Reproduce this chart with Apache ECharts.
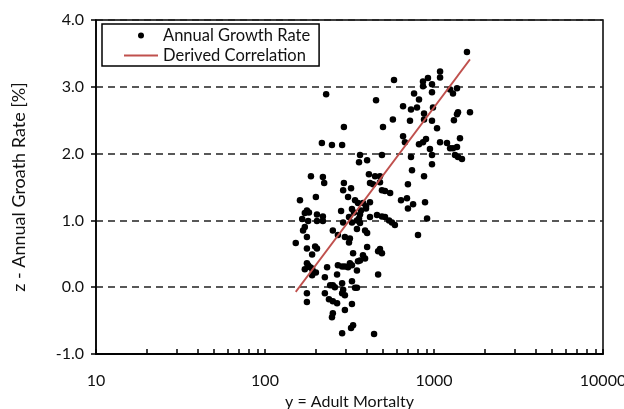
<!DOCTYPE html>
<html>
<head>
<meta charset="utf-8">
<script src="https://cdn.jsdelivr.net/npm/echarts@6/dist/echarts.min.js"></script>
<style>
  html, body { margin: 0; padding: 0; background: #fff; }
  #chart { width: 624px; height: 409px; }
</style>
</head>
<body>
<div id="chart"></div>
<script>
// Adult mortality (x) and annual growth rate in % (z) for each observation
const mortality = [
  1567, 1086, 1086, 921, 861, 973, 580, 861, 1245, 1368,
  1295, 762, 973, 815, 656, 731, 793, 986, 1387, 1633,
  1368, 873, 571, 721, 873, 973, 1312, 499, 1042, 656,
  673, 1425, 815, 861, 897, 1086, 1194, 1245, 1295, 946,
  1368, 973, 1331, 1387, 1464, 731, 973, 741, 873, 701,
  492, 513, 550, 638, 692, 752, 701, 885, 492, 513,
  542, 564, 587, 910, 804, 230, 454, 293, 217, 249,
  286, 365, 402, 360, 492, 187, 220, 224, 412, 448,
  479, 418, 436, 479, 293, 290, 323, 161, 200, 310,
  341, 355, 380, 396, 418, 177, 182, 172, 203, 220,
  282, 327, 336, 370, 365, 396, 360, 350, 314, 290,
  327, 365, 418, 460, 166, 180, 203, 220, 172, 168,
  252, 270, 297, 318, 350, 391, 402, 177, 152, 402,
  479, 177, 198, 203, 190, 314, 467, 492, 332, 380,
  391, 365, 355, 233, 270, 286, 297, 318, 327, 310,
  350, 177, 180, 185, 190, 172, 192, 200, 190, 226,
  267, 286, 327, 467, 243, 252, 259, 290, 341, 350,
  177, 226, 286, 297, 177, 239, 252, 267, 327, 297,
  252, 249, 332, 323, 286, 442
];
const growthRate = [
  3.52, 3.23, 3.14, 3.13, 3.08, 3.04, 3.10, 3.01, 2.96, 2.98,
  2.90, 2.90, 2.92, 2.81, 2.71, 2.66, 2.69, 2.69, 2.62, 2.62,
  2.59, 2.60, 2.51, 2.49, 2.51, 2.49, 2.50, 2.40, 2.38, 2.26,
  2.17, 2.23, 2.14, 2.17, 2.22, 2.17, 2.16, 2.08, 2.08, 2.07,
  2.10, 1.98, 1.98, 1.95, 1.92, 1.95, 1.84, 1.75, 1.66, 1.54,
  1.45, 1.44, 1.41, 1.30, 1.33, 1.24, 1.18, 1.27, 1.06, 1.05,
  1.00, 0.97, 0.93, 1.03, 0.78, 2.89, 2.80, 2.40, 2.16, 2.13,
  2.13, 1.98, 1.90, 1.87, 1.98, 1.66, 1.65, 1.56, 1.69, 1.66,
  1.66, 1.56, 1.54, 1.57, 1.56, 1.45, 1.48, 1.30, 1.35, 1.35,
  1.30, 1.26, 1.26, 1.21, 1.27, 1.15, 1.12, 1.11, 1.09, 1.06,
  1.14, 1.17, 1.12, 1.15, 1.09, 1.18, 1.03, 1.00, 1.05, 0.97,
  0.97, 0.96, 1.05, 1.08, 1.02, 0.99, 0.99, 0.99, 0.90, 0.85,
  0.85, 0.78, 0.75, 0.73, 0.87, 0.85, 0.81, 0.75, 0.66, 0.60,
  0.57, 0.58, 0.61, 0.58, 0.49, 0.67, 0.54, 0.51, 0.51, 0.48,
  0.43, 0.40, 0.39, 0.30, 0.33, 0.31, 0.31, 0.36, 0.33, 0.30,
  0.25, 0.36, 0.33, 0.30, 0.28, 0.27, 0.24, 0.22, 0.18, 0.15,
  0.19, 0.06, 0.09, 0.19, 0.03, 0.03, 0.00, -0.04, -0.01, -0.01,
  -0.09, -0.09, -0.09, -0.12, -0.22, -0.18, -0.21, -0.24, -0.25, -0.34,
  -0.39, -0.45, -0.57, -0.61, -0.69, -0.70
];

// Fitted correlation, end points of the straight line on the log axis
const correlationX = [152, 1633];
const correlationY = [-0.07, 3.41];

// Axis ticks
const xMinorTicks = [
  10, 20, 30, 40, 50, 60, 70, 80, 90,
  100, 200, 300, 400, 500, 600, 700, 800, 900,
  1000, 2000, 3000, 4000, 5000, 6000, 7000, 8000, 9000, 10000
];
const xLabels = [10, 100, 1000, 10000];
const yTicks = [-1, 0, 1, 2, 3, 4];

const FONT = 'Lato, "Open Sans", sans-serif';
const TEXT = '#111';
const FS = 16;

const growthPoints = mortality.map((m, i) => [m, growthRate[i]]);
const correlationLine = correlationX.map((m, i) => [m, correlationY[i]]);

const chart = echarts.init(document.getElementById('chart'), null, { renderer: 'canvas' });

chart.setOption({
  animation: false,
  backgroundColor: '#fff',
  textStyle: { fontFamily: FONT, color: TEXT },
  grid: {
    left: 96, right: 21, top: 20, bottom: 55,
    containLabel: false,
    outerBoundsMode: 'none',
    show: true, borderColor: '#000', borderWidth: 1.5,
    backgroundColor: 'transparent'
  },
  legend: {
    left: 102, top: 24,
    orient: 'vertical',
    itemWidth: 34, itemHeight: 6, itemGap: 3,
    padding: [3, 9, 2, 21],
    borderColor: '#000', borderWidth: 1.5,
    textStyle: { fontFamily: FONT, fontSize: 16.5, color: TEXT },
    data: [
      { name: 'Annual Growth Rate', icon: 'circle', itemStyle: { color: '#000', opacity: 1 } },
      { name: 'Derived Correlation', itemStyle: { opacity: 0 } }
    ]
  },
  xAxis: [
    {
      type: 'log', logBase: 10,
      min: xLabels[0], max: xLabels[xLabels.length - 1],
      name: 'y = Adult Mortalty',
      nameLocation: 'middle', nameGap: 40,
      nameTextStyle: { fontFamily: FONT, fontSize: FS, color: TEXT },
      axisLine: { show: true, onZero: false, lineStyle: { color: '#000', width: 1.5 } },
      axisTick: { show: false },
      axisLabel: {
        formatter: v => String(Math.round(v)),
        fontFamily: FONT, fontSize: FS, color: TEXT, margin: 19
      },
      splitLine: { show: false }
    },
    {
      // companion axis in decade units, carrying the 1..9 ticks of every decade
      type: 'value', position: 'bottom', offset: 0, gridIndex: 0,
      min: Math.log10(xLabels[0]), max: Math.log10(xLabels[xLabels.length - 1]),
      axisLine: { show: true, onZero: false, lineStyle: { color: '#000', width: 1.5 } },
      axisLabel: { show: false },
      splitLine: { show: false },
      axisTick: {
        show: true, inside: true, length: 5,
        customValues: xMinorTicks.map(Math.log10),
        lineStyle: { color: '#000', width: 1.5 }
      }
    }
  ],
  yAxis: {
    type: 'value',
    min: yTicks[0], max: yTicks[yTicks.length - 1], interval: 1,
    name: 'z - Annual Groath Rate [%]',
    nameLocation: 'middle', nameGap: 68,
    nameTextStyle: { fontFamily: FONT, fontSize: 18, color: TEXT },
    axisLine: { show: true, lineStyle: { color: '#000', width: 1.5 } },
    axisTick: { show: true, inside: false, length: 5, lineStyle: { color: '#000', width: 1.5 } },
    axisLabel: {
      formatter: v => v.toFixed(1),
      fontFamily: FONT, fontSize: FS, color: TEXT, margin: 12
    },
    splitLine: { show: true, lineStyle: { color: '#222', width: 1.5, type: [7, 5] } }
  },
  series: [
    {
      name: 'Annual Growth Rate',
      type: 'scatter',
      data: growthPoints,
      symbol: 'circle',
      symbolSize: 6.5,
      itemStyle: { color: '#000', opacity: 1 },
      z: 3
    },
    {
      name: 'Derived Correlation',
      type: 'line',
      data: correlationLine,
      symbol: 'none',
      showSymbol: false,
      lineStyle: { color: '#c0504d', width: 1.8 },
      itemStyle: { color: '#c0504d' },
      z: 4
    }
  ]
});
</script>
</body>
</html>
